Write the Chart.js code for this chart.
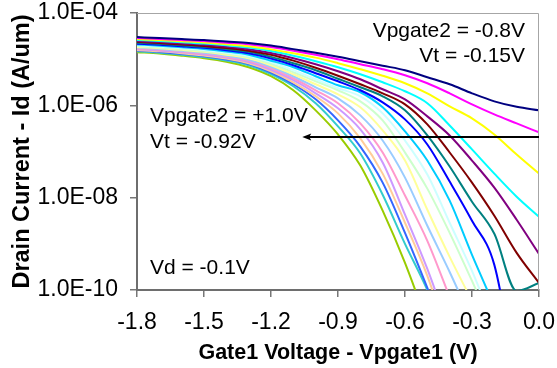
<!DOCTYPE html>
<html><head><meta charset="utf-8">
<script src="https://cdn.jsdelivr.net/npm/chart.js@4.4.0/dist/chart.umd.min.js"></script>
<style>html,body{margin:0;padding:0;background:#fff;}canvas{display:block;}</style>
</head><body>
<canvas id="c" width="557" height="368"></canvas>
<script>
// Gate1 voltage grid (V)
const vgate1 = [-1.8,-1.7,-1.6,-1.5,-1.4,-1.3,-1.2,-1.1,-1.0,-0.9,-0.8,-0.7,-0.6,-0.5,-0.4,-0.3,-0.2,-0.1,0.0];
// Vpgate2 series labels
const vpgate2 = ['-0.8','-0.7','-0.6','-0.5','-0.4','-0.3','-0.2','-0.1','0.0','+0.1','+0.2','+0.3','+0.4','+0.5','+0.6','+0.7','+0.8','+0.9','+1.0'];
// Drain current Id (A/um) for each Vpgate2
const id_m08 = [3.01e-5,2.86e-5,2.72e-5,2.59e-5,2.40e-5,2.23e-5,1.97e-5,1.65e-5,1.38e-5,1.13e-5,9.05e-6,7.22e-6,5.77e-6,4.06e-6,2.86e-6,1.82e-6,1.22e-6,9.28e-7,7.79e-7];
const id_m07 = [2.89e-5,2.75e-5,2.61e-5,2.47e-5,2.28e-5,2.10e-5,1.83e-5,1.53e-5,1.25e-5,1.00e-5,7.79e-6,6.06e-6,4.49e-6,3.01e-6,1.82e-6,1.05e-6,6.37e-7,4.06e-7,2.59e-7];
const id_m06 = [2.72e-5,2.59e-5,2.45e-5,2.31e-5,2.11e-5,1.91e-5,1.63e-5,1.35e-5,1.08e-5,8.18e-6,6.06e-6,4.38e-6,3.01e-6,1.82e-6,9.51e-7,5.22e-7,2.34e-7,8.61e-8,3.32e-8];
const id_m05 = [2.60e-5,2.47e-5,2.33e-5,2.18e-5,1.99e-5,1.78e-5,1.50e-5,1.19e-5,9.05e-6,6.70e-6,4.72e-6,3.16e-6,2.02e-6,1.11e-6,3.67e-7,1.11e-7,3.32e-8,1.05e-8,3.86e-9];
const id_m04 = [2.47e-5,2.34e-5,2.19e-5,2.05e-5,1.85e-5,1.64e-5,1.36e-5,1.05e-5,7.79e-6,5.48e-6,3.67e-6,2.23e-6,1.35e-6,5.77e-7,2.23e-7,6.37e-8,1.65e-8,3.32e-9,6.06e-10];
const id_m03 = [2.37e-5,2.23e-5,2.09e-5,1.94e-5,1.74e-5,1.53e-5,1.25e-5,9.28e-6,6.53e-6,4.38e-6,2.86e-6,1.82e-6,1.05e-6,3.86e-7,9.51e-8,2.12e-8,4.06e-9,6.37e-10,1.42e-10];
const id_m02 = [2.27e-5,2.15e-5,2.01e-5,1.85e-5,1.66e-5,1.44e-5,1.12e-5,8.18e-6,5.77e-6,3.77e-6,2.46e-6,1.57e-6,7.79e-7,2.23e-7,4.72e-8,8.18e-9,1.65e-9,9.5e-11,1.42e-10];
const id_m01 = [2.17e-5,2.05e-5,1.91e-5,1.76e-5,1.56e-5,1.34e-5,1.03e-5,7.40e-6,4.96e-6,3.32e-6,2.12e-6,1.16e-6,4.96e-7,1.42e-7,2.23e-8,3.16e-9,3.50e-10,1.05e-12,null];
const id_000 = [2.08e-5,1.96e-5,1.81e-5,1.67e-5,1.47e-5,1.25e-5,9.28e-6,6.70e-6,4.27e-6,2.72e-6,1.92e-6,9.05e-7,2.72e-7,6.37e-8,8.61e-9,5.77e-10,4.49e-11,null,null];
const id_p01 = [1.99e-5,1.87e-5,1.73e-5,1.58e-5,1.38e-5,1.17e-5,8.61e-6,5.77e-6,3.67e-6,2.34e-6,1.57e-6,6.70e-7,1.73e-7,3.16e-8,2.86e-9,2.59e-10,1.65e-11,null,null];
const id_p02 = [1.92e-5,1.80e-5,1.66e-5,1.51e-5,1.32e-5,1.10e-5,7.98e-6,5.22e-6,3.32e-6,2.12e-6,1.22e-6,4.72e-7,9.51e-8,1.57e-8,1.73e-9,1.57e-10,1.28e-11,null,null];
const id_p03 = [1.84e-5,1.73e-5,1.59e-5,1.44e-5,1.25e-5,1.04e-5,7.40e-6,4.72e-6,2.86e-6,1.73e-6,9.05e-7,2.86e-7,6.37e-8,5.48e-9,5.22e-10,5.77e-11,null,null,null];
const id_p04 = [1.78e-5,1.66e-5,1.52e-5,1.38e-5,1.19e-5,9.75e-6,6.87e-6,4.27e-6,2.46e-6,1.42e-6,6.06e-7,1.73e-7,2.72e-8,2.46e-9,2.46e-10,2.12e-11,null,null,null];
const id_p05 = [1.71e-5,1.60e-5,1.46e-5,1.32e-5,1.13e-5,9.23e-6,6.37e-6,3.86e-6,2.12e-6,1.11e-6,4.06e-7,9.51e-8,1.11e-8,1.16e-9,7.04e-11,null,null,null,null];
const id_p06 = [1.65e-5,1.54e-5,1.41e-5,1.26e-5,1.08e-5,8.69e-6,5.91e-6,3.50e-6,1.82e-6,8.61e-7,3.01e-7,5.77e-8,4.27e-9,2.86e-10,1.28e-11,null,null,null,null];
const id_p07 = [1.58e-5,1.48e-5,1.35e-5,1.20e-5,1.03e-5,8.18e-6,5.48e-6,3.16e-6,1.57e-6,6.70e-7,1.92e-7,3.32e-8,2.86e-9,2.02e-10,7.79e-12,null,null,null,null];
const id_p08 = [1.54e-5,1.43e-5,1.30e-5,1.16e-5,9.85e-6,7.83e-6,5.09e-6,2.86e-6,1.35e-6,4.72e-7,1.28e-7,2.12e-8,1.73e-9,1.11e-10,6.06e-12,null,null,null,null];
const id_p09 = [1.48e-5,1.38e-5,1.25e-5,1.11e-5,9.37e-6,7.37e-6,4.72e-6,2.59e-6,1.11e-6,3.50e-7,9.05e-8,1.16e-8,1.00e-9,1.00e-10,6.06e-12,null,null,null,null];
const id_p10 = [1.42e-5,1.32e-5,1.19e-5,1.05e-5,8.82e-6,6.70e-6,4.27e-6,2.12e-6,7.79e-7,2.34e-7,4.96e-8,5.22e-9,3.86e-10,1.92e-11,null,null,null,null,null];

const seriesData = [id_m08,id_m07,id_m06,id_m05,id_m04,id_m03,id_m02,id_m01,id_000,id_p01,id_p02,id_p03,id_p04,id_p05,id_p06,id_p07,id_p08,id_p09,id_p10];
const seriesColors = ['#000080','#FF00FF','#FFFF00','#00FFFF','#800080','#800000','#008080','#0000FF','#00CCFF','#CCFFFF','#CCFFCC','#FFFF99','#99CCFF','#FF99CC','#CC99FF','#FFCC99','#3366FF','#33CCCC','#99CC00'];

const xTickValues = [-1.8,-1.5,-1.2,-0.9,-0.6,-0.3,0.0];
const xTickLabels = ['-1.8','-1.5','-1.2','-0.9','-0.6','-0.3','0.0'];
const yTickValues = [1e-10,1e-8,1e-6,1e-4];
const yTickLabels = ['1.0E-10','1.0E-08','1.0E-06','1.0E-04'];

const arrowFrom = [0.0, 2.02e-7];
const arrowTo = [-1.06, 2.02e-7];

const FONT = "'Liberation Sans', Arial, Helvetica, sans-serif";

const datasets = seriesData.map((vals, k) => ({
  label: 'Vpgate2 = ' + vpgate2[k] + 'V',
  data: vgate1.map((v, i) => ({x: v, y: vals[i]})).filter(p => p.y !== null),
  borderColor: seriesColors[k],
  backgroundColor: seriesColors[k],
  borderWidth: 2,
  pointRadius: 0,
  fill: false,
  cubicInterpolationMode: 'monotone'
}));

const annoPlugin = {
  id: 'anno',
  afterDatasetsDraw(chart) {
    const {ctx, chartArea: a, scales} = chart;
    const xs = scales.x, ys = scales.y;
    ctx.save();
    // top & right plot border
    ctx.strokeStyle = '#a6a6a6';
    ctx.lineWidth = 1;
    ctx.beginPath();
    ctx.moveTo(a.left, a.top + 0.5);
    ctx.lineTo(a.right - 0.5, a.top + 0.5);
    ctx.lineTo(a.right - 0.5, a.bottom);
    ctx.stroke();
    // arrow
    const x0 = xs.getPixelForValue(arrowFrom[0]);
    const x1 = xs.getPixelForValue(arrowTo[0]);
    const yy = Math.round(ys.getPixelForValue(arrowFrom[1]));
    ctx.strokeStyle = '#000';
    ctx.fillStyle = '#000';
    ctx.lineWidth = 2;
    ctx.beginPath();
    ctx.moveTo(x0, yy);
    ctx.lineTo(x1 + 4, yy);
    ctx.stroke();
    ctx.beginPath();
    ctx.moveTo(x1, yy);
    ctx.lineTo(x1 + 9, yy - 3.5);
    ctx.lineTo(x1 + 7, yy);
    ctx.lineTo(x1 + 9, yy + 3.5);
    ctx.closePath();
    ctx.fill();
    // texts
    ctx.fillStyle = '#000';
    ctx.font = '21px ' + FONT;
    ctx.textBaseline = 'alphabetic';
    ctx.textAlign = 'right';
    ctx.fillText('Vpgate2 = -0.8V', 525, 37);
    ctx.fillText('Vt = -0.15V', 525, 62);
    ctx.textAlign = 'left';
    ctx.fillText('Vpgate2 = +1.0V', 150, 122);
    ctx.fillText('Vt = -0.92V', 150, 148);
    ctx.fillText('Vd = -0.1V', 150, 274);
    ctx.restore();
  }
};

new Chart(document.getElementById('c'), {
  type: 'line',
  data: {datasets},
  plugins: [annoPlugin],
  options: {
    responsive: false,
    animation: false,
    devicePixelRatio: 1,
    layout: {padding: {top: 13, right: 18, bottom: 0, left: 0}},
    plugins: {legend: {display: false}, tooltip: {enabled: false}},
    scales: {
      x: {
        type: 'linear',
        min: -1.8, max: 0.0,
        afterBuildTicks: s => { s.ticks = xTickValues.map(v => ({value: v})); },
        afterFit: s => { s.height = 78; s.paddingLeft = 0; s.paddingRight = 0; },
        ticks: {
          autoSkip: false, maxRotation: 0, padding: 12, color: '#000',
          font: {size: 23, family: FONT},
          callback: (v, i) => xTickLabels[i]
        },
        grid: {drawOnChartArea: false, drawTicks: true, tickLength: 7, color: '#777', lineWidth: 1.5},
        border: {display: true, color: '#6e6e6e', width: 2},
        title: {display: true, text: 'Gate1 Voltage - Vpgate1 (V)', color: '#000',
          font: {size: 21.5, weight: 'bold', family: FONT}, padding: {top: 0, bottom: 2}}
      },
      y: {
        type: 'logarithmic',
        min: 1e-10, max: 1e-4,
        afterBuildTicks: s => { s.ticks = yTickValues.map(v => ({value: v})); },
        afterFit: s => { s.width = 137; s.paddingTop = 0; s.paddingBottom = 0; },
        ticks: {
          autoSkip: false, padding: 12, color: '#000',
          font: {size: 23, family: FONT},
          callback: (v, i) => yTickLabels[i]
        },
        grid: {drawOnChartArea: false, drawTicks: true, tickLength: 7, color: '#777', lineWidth: 1.5},
        border: {display: true, color: '#6e6e6e', width: 2},
        title: {display: true, text: 'Drain Current - Id (A/um)', color: '#000',
          font: {size: 23.5, weight: 'bold', family: FONT}, padding: {top: 8, bottom: 0}}
      }
    }
  }
});
</script>
</body></html>
